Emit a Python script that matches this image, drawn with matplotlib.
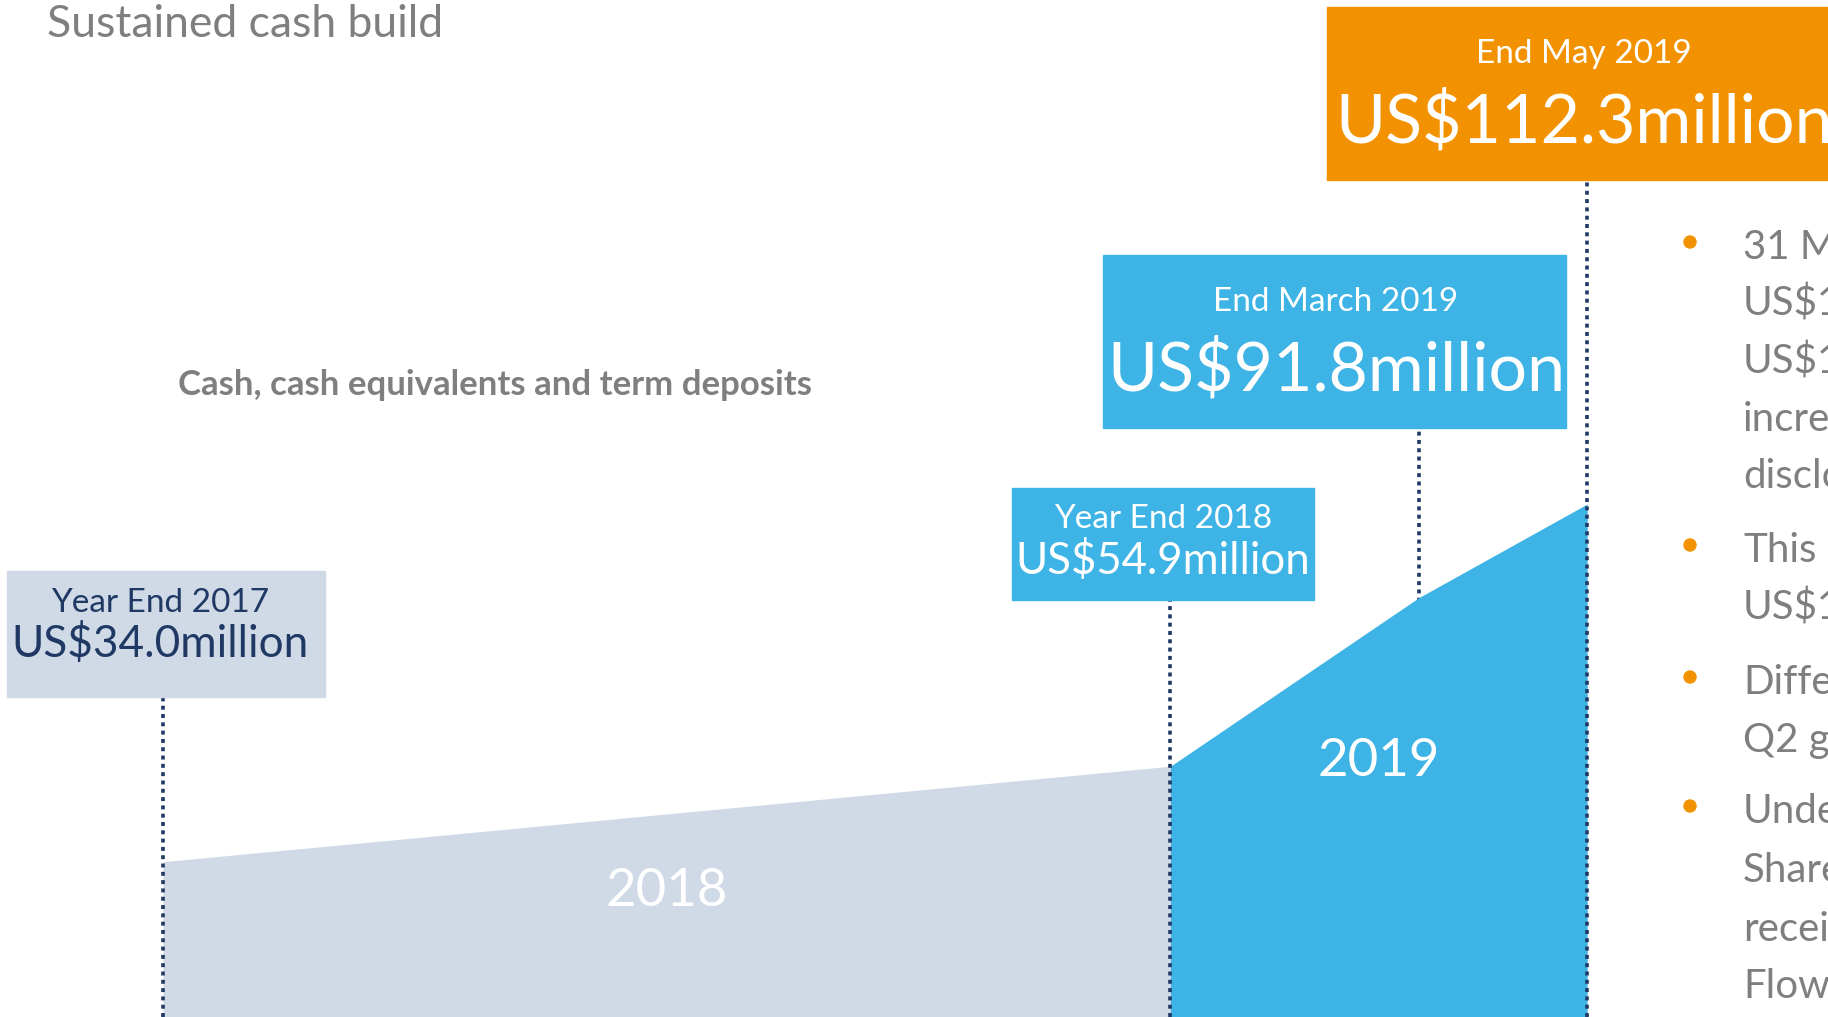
import matplotlib
matplotlib.use('Agg')

import matplotlib.pyplot as plt
from matplotlib.patches import Rectangle, Ellipse
import pandas as pd

# data
dates = ['2017-12-31', '2018-12-31', '2019-03-31', '2019-05-31']
cash = [34.0, 54.9, 91.8, 112.3]
box_titles = ['Year End 2017', 'Year End 2018', 'End March 2019', 'End May 2019']
box_values = ['US$34.0million', 'US$54.9million', 'US$91.8million', 'US$112.3million']
periods = ['2018', '2019']
bullets = [
    ['31 May', 'US$1', 'US$1', 'increase', 'disclosed'],
    ['This', 'US$1'],
    ['Difference', 'Q2 guidance'],
    ['Under', 'Share', 'received', 'Flow'],
]

W, H = 1828, 1017
LIGHT = '#CFDAE6'
BLUE = '#3DB4E5'
ORANGE = '#F39200'
NAVY = '#1F3864'
GREY = '#7F7F7F'
FONT = 'Lato'


def fx(px):
    return px / W


def fy(py):
    return 1 - py / H


def box(x0, y0, x1, y1, color):
    fig.patches.append(Rectangle((fx(x0), fy(y1)), (x1 - x0) / W, (y1 - y0) / H,
                                 transform=fig.transFigure, color=color, zorder=1))


def label(x, y, s, size, color, weight='normal', ha='center'):
    fig.text(fx(x), fy(y), s, fontsize=size, color=color, ha=ha, va='baseline',
             family=FONT, weight=weight, zorder=3)


d = pd.to_datetime(pd.Series(dates))
days = (d - d[0]).dt.days.values

fig = plt.figure(figsize=(W / 100, H / 100), dpi=100)
ax = fig.add_axes([0, 0, 1, 1])
ax.set_xlim(-163 / 2.76, (W - 163) / 2.76)
ax.set_ylim(0, H / 4.568)
ax.axis('off')

# areas
ax.fill_between(days[:2], cash[:2], 0, color=LIGHT, lw=0, zorder=2)
ax.fill_between(days[1:], cash[1:], 0, color=BLUE, lw=0, zorder=2)

# dotted leaders (box bottom in pixels)
box_bottoms = [697, 600, 428, 180]
for i, x in enumerate(days):
    ax.axvline(x, ymin=0, ymax=fy(box_bottoms[i]), color=NAVY, lw=2.6,
               ls=(0, (1.1, 1.2)), zorder=1 if i == 2 else 3)

# period labels
ax.text((days[0] + days[1]) / 2, (H - 892) / 4.568, periods[0], color='white',
        fontsize=38, ha='center', va='center', family=FONT, zorder=4)
ax.text((days[1] + days[3]) / 2, (H - 761) / 4.568, periods[1], color='white',
        fontsize=38, ha='center', va='center', family=FONT, zorder=4)

# callout boxes
box(7, 571, 325, 697, LIGHT)
label(160, 612, box_titles[0], 24, NAVY)
label(160, 657, box_values[0], 31.8, NAVY)

box(1012, 488, 1314, 600, BLUE)
label(1163, 528, box_titles[1], 24, 'white')
label(1163, 574, box_values[1], 31.5, 'white')

box(1103, 255, 1566, 428, BLUE)
label(1336, 311, box_titles[2], 24, 'white')
label(1336, 390, box_values[2], 49, 'white')

box(1327, 7, 1840, 180, ORANGE)
label(1584, 63, box_titles[3], 24, 'white')
label(1584, 143, box_values[3], 49, 'white')

# titles
label(47, 37, 'Sustained cash build', 32, GREY, ha='left')
label(178, 395, 'Cash, cash equivalents and term deposits', 25, GREY,
      weight='bold', ha='left')

# bullet text on the right
baselines = [[259, 316, 373, 431, 488], [562, 619], [694, 752],
             [823, 882, 941, 998]]
for lines, ys in zip(bullets, baselines):
    fig.patches.append(Ellipse((fx(1690), fy(ys[0] - 17)), 12 / W, 12 / H,
                               transform=fig.transFigure, color=ORANGE, zorder=3))
    for s, y in zip(lines, ys):
        label(1743, y, s, 29, GREY, ha='left')

fig.savefig('out.png', dpi=100)
